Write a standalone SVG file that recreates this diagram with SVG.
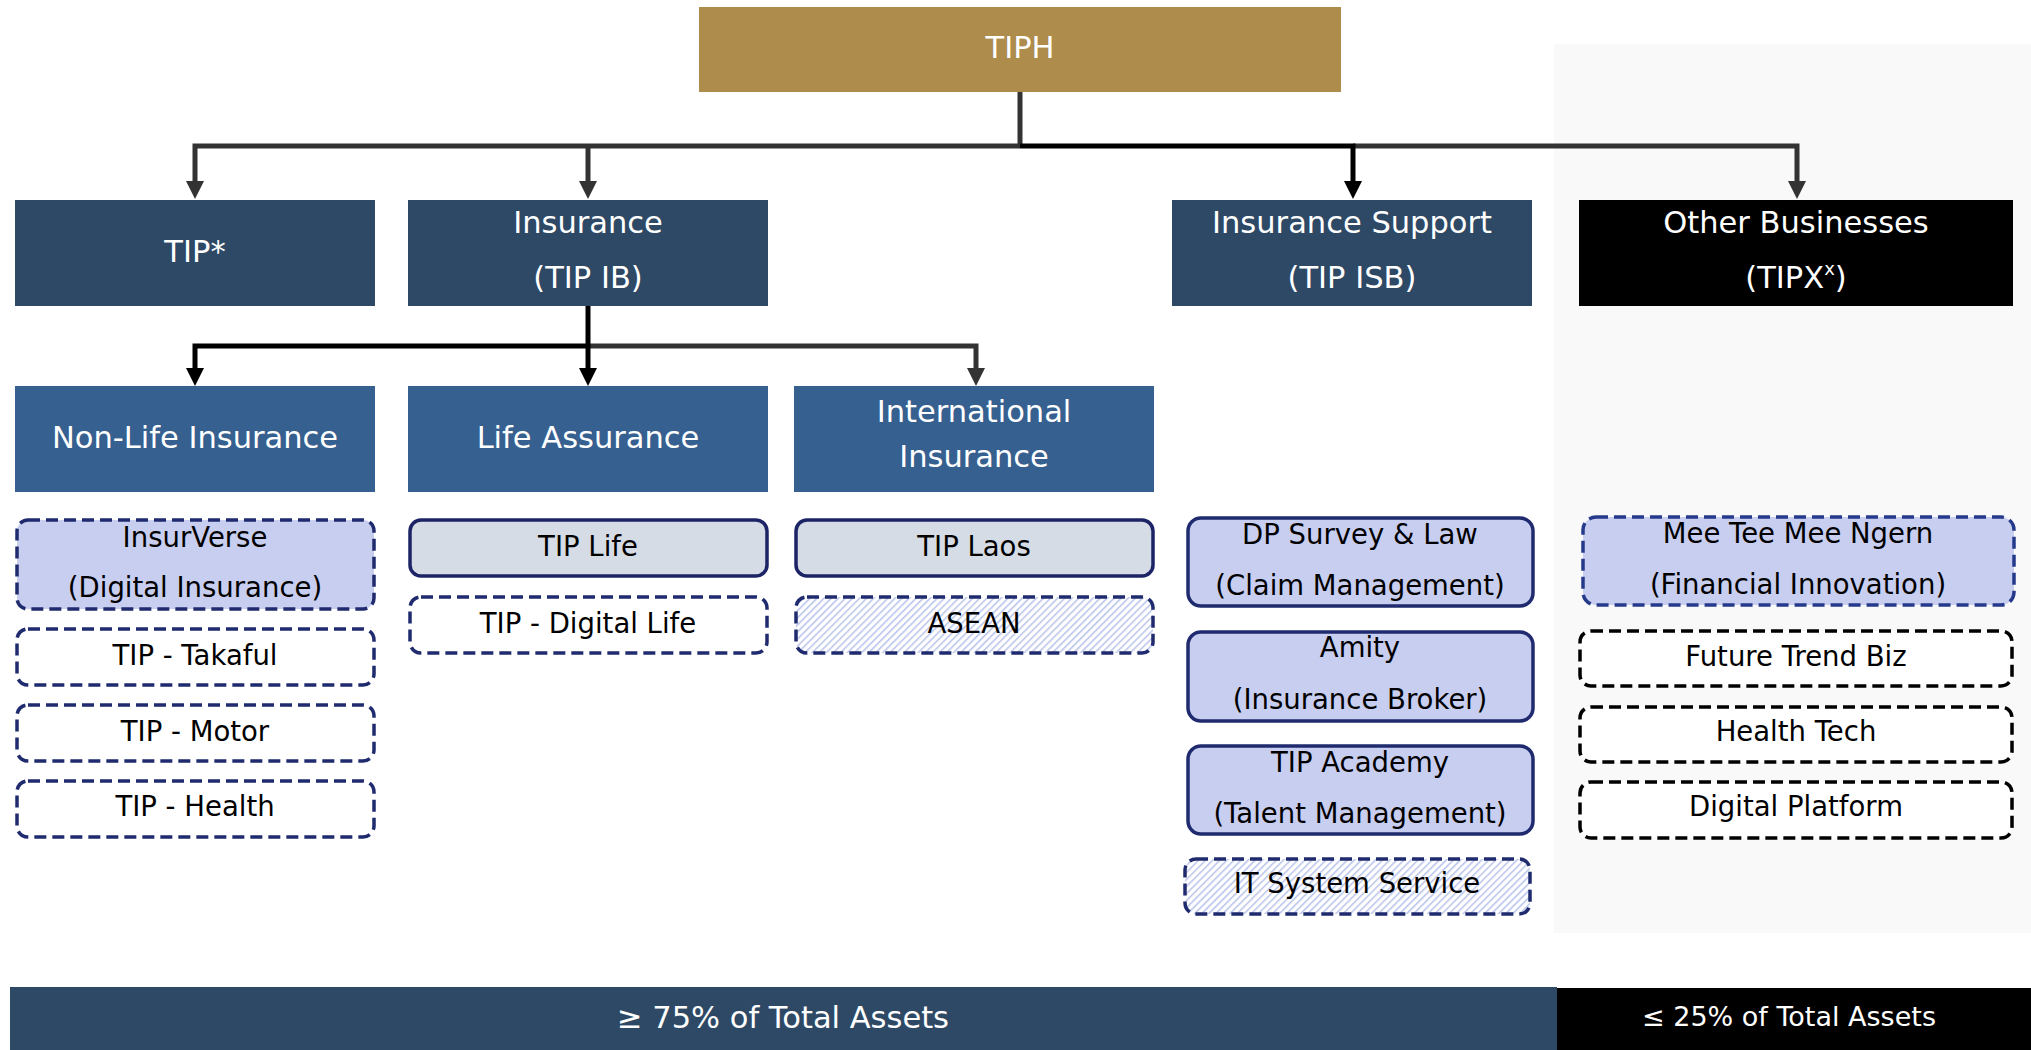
<svg xmlns="http://www.w3.org/2000/svg" width="2031" height="1050" viewBox="0 0 2031 1050">
<style>
text{font-family:"DejaVu Sans","Liberation Sans",sans-serif;text-anchor:middle}
.h{font-size:30.5px;fill:#fff}
.c{font-size:27.5px;fill:#000}
.navy{fill:#2e4966}
.blue{fill:#366090}
.lav{fill:#c8cef0;stroke:#1f2b6e;stroke-width:3.5}
.solid{fill:#d6dce5;stroke:#1c2466;stroke-width:3.5}
.dash{stroke-dasharray:12 6}
.wd{fill:#fff;stroke:#1f2b6e;stroke-width:3.5}
.bd{fill:#fff;stroke:#000;stroke-width:3.5}
.hat{fill:url(#hatch);stroke:#1f2b6e;stroke-width:3.5}
.g{fill:none;stroke:#333;stroke-width:5}
.k{fill:none;stroke:#000;stroke-width:5}
</style>
<defs>
<marker id="ag" markerUnits="userSpaceOnUse" markerWidth="18" markerHeight="18" viewBox="0 0 18 18" refX="10" refY="9" orient="auto"><path d="M0,0 L18,9 L0,18 z" fill="#333"/></marker>
<marker id="ak" markerUnits="userSpaceOnUse" markerWidth="18" markerHeight="18" viewBox="0 0 18 18" refX="10" refY="9" orient="auto"><path d="M0,0 L18,9 L0,18 z" fill="#000"/></marker>
<pattern id="hatch" patternUnits="userSpaceOnUse" width="5" height="5" patternTransform="rotate(45)"><rect width="5" height="5" fill="#fff"/><rect width="1.5" height="5" fill="#b8c2ea"/></pattern>
</defs>
<rect x="0" y="0" width="2031" height="1050" fill="#fff"/>
<rect x="1554" y="44" width="477" height="889" fill="#f9f9f9"/>

<g id="connectors">
<path class="g" d="M1020,92 V146"/>
<path class="g" d="M1020,146 H195 V191" marker-end="url(#ag)"/>
<path class="g" d="M588,146 V191" marker-end="url(#ag)"/>
<path class="g" d="M1353,146 H1797 V191" marker-end="url(#ag)"/>
<path class="k" d="M1020,146 H1353 V191" marker-end="url(#ak)"/>
<path class="g" d="M588,346 H976 V378" marker-end="url(#ag)"/>
<path class="k" d="M588,306 V378" marker-end="url(#ak)"/>
<path class="k" d="M588,346 H195 V378" marker-end="url(#ak)"/>
</g>

<g id="tiph"><rect x="699" y="7" width="642" height="85" fill="#ad8c4c"/><text class="h" x="1020" y="58">TIPH</text></g>
<g id="tip"><rect class="navy" x="15" y="200" width="360" height="106"/><text class="h" x="195" y="262">TIP*</text></g>
<g id="insurance"><rect class="navy" x="408" y="200" width="360" height="106"/><text class="h" x="588" y="233">Insurance</text><text class="h" x="588" y="288">(TIP IB)</text></g>
<g id="insurance-support"><rect class="navy" x="1172" y="200" width="360" height="106"/><text class="h" x="1352" y="233">Insurance Support</text><text class="h" x="1352" y="288">(TIP ISB)</text></g>
<g id="other-businesses"><rect x="1579" y="200" width="434" height="106" fill="#000"/><text class="h" x="1796" y="233">Other Businesses</text><text class="h" x="1796" y="288">(TIPX<tspan font-size="18" dy="-13">x</tspan><tspan dy="13">)</tspan></text></g>

<g id="non-life"><rect class="blue" x="15" y="386" width="360" height="106"/><text class="h" x="195" y="448">Non-Life Insurance</text></g>
<g id="life"><rect class="blue" x="408" y="386" width="360" height="106"/><text class="h" x="588" y="448">Life Assurance</text></g>
<g id="international"><rect class="blue" x="794" y="386" width="360" height="106"/><text class="h" x="974" y="422">International</text><text class="h" x="974" y="467">Insurance</text></g>

<g id="insurverse"><rect class="lav dash" x="17" y="520" width="357" height="89" rx="11"/><text class="c" x="195" y="547">InsurVerse</text><text class="c" x="195" y="597">(Digital Insurance)</text></g>
<g id="takaful"><rect class="wd dash" x="17" y="629" width="357" height="56" rx="11"/><text class="c" x="195" y="665">TIP - Takaful</text></g>
<g id="motor"><rect class="wd dash" x="17" y="705" width="357" height="56" rx="11"/><text class="c" x="195" y="741">TIP - Motor</text></g>
<g id="health"><rect class="wd dash" x="17" y="781" width="357" height="56" rx="11"/><text class="c" x="195" y="816">TIP - Health</text></g>

<g id="tip-life"><rect class="solid" x="410" y="520" width="357" height="56" rx="11"/><text class="c" x="588" y="556">TIP Life</text></g>
<g id="digital-life"><rect class="wd dash" x="410" y="597" width="357" height="56" rx="11"/><text class="c" x="588" y="633">TIP - Digital Life</text></g>

<g id="tip-laos"><rect class="solid" x="796" y="520" width="357" height="56" rx="11"/><text class="c" x="974" y="556">TIP Laos</text></g>
<g id="asean"><rect class="hat dash" x="796" y="597" width="357" height="56" rx="11"/><text class="c" x="974" y="633">ASEAN</text></g>

<g id="dp-survey"><rect class="lav" x="1188" y="518" width="345" height="88" rx="13"/><text class="c" x="1360" y="544">DP Survey &amp; Law</text><text class="c" x="1360" y="595">(Claim Management)</text></g>
<g id="amity"><rect class="lav" x="1188" y="632" width="345" height="89" rx="13"/><text class="c" x="1360" y="657">Amity</text><text class="c" x="1360" y="709">(Insurance Broker)</text></g>
<g id="academy"><rect class="lav" x="1188" y="746" width="345" height="88" rx="13"/><text class="c" x="1360" y="772">TIP Academy</text><text class="c" x="1360" y="823">(Talent Management)</text></g>
<g id="it-system"><rect class="hat dash" x="1185" y="859" width="345" height="55" rx="11"/><text class="c" x="1357" y="893">IT System Service</text></g>

<g id="mee-tee"><rect class="lav dash" x="1583" y="517" width="431" height="88" rx="13" style="stroke:#263a8c"/><text class="c" x="1798" y="543">Mee Tee Mee Ngern</text><text class="c" x="1798" y="594">(Financial Innovation)</text></g>
<g id="future-trend"><rect class="bd dash" x="1580" y="631" width="432" height="55" rx="11"/><text class="c" x="1796" y="666">Future Trend Biz</text></g>
<g id="health-tech"><rect class="bd dash" x="1580" y="707" width="432" height="55" rx="11"/><text class="c" x="1796" y="741">Health Tech</text></g>
<g id="digital-platform"><rect class="bd dash" x="1580" y="782" width="432" height="56" rx="11"/><text class="c" x="1796" y="816">Digital Platform</text></g>

<g id="bar-75"><rect class="navy" x="10" y="987" width="1547" height="63"/><text class="h" x="783" y="1028">≥ 75% of Total Assets</text></g>
<g id="bar-25"><rect x="1557" y="988" width="474" height="62" fill="#000"/><text x="1789" y="1026" style="font-size:27px;fill:#fff">≤ 25% of Total Assets</text></g>
</svg>
